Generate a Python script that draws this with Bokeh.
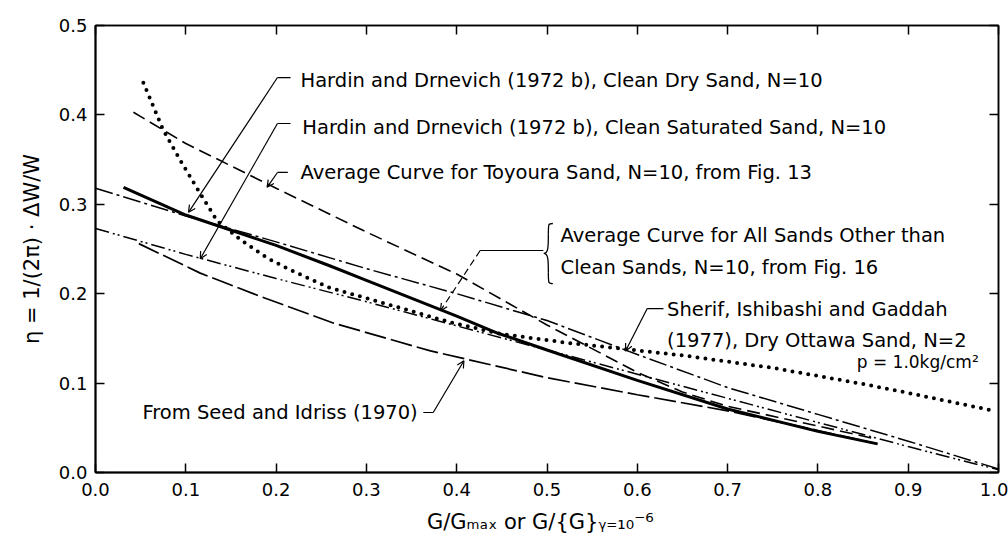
from bokeh.plotting import figure
from bokeh.models import LinearAxis, FixedTicker, Range1d, Arrow, OpenHead
from bokeh.core.properties import value
from bokeh.embed import file_html
from bokeh.resources import INLINE

# ---------------- axes ----------------
x_ticks = [0.0, 0.1, 0.2, 0.3, 0.4, 0.5, 0.6, 0.7, 0.8, 0.9, 1.0]
x_tick_labels = ["0.0", "0.1", "0.2", "0.3", "0.4", "0.5", "0.6", "0.7", "0.8", "0.9", "1.0"]
y_ticks = [0.0, 0.1, 0.2, 0.3, 0.4, 0.5]
y_tick_labels = ["0.0", "0.1", "0.2", "0.3", "0.4", "0.5"]
x_label = "G/Gₘₐₓ  or  G/{G}ᵧ₌₁₀⁻⁶"
y_label = "η = 1/(2π) · ΔW/W"

# ---------------- curves ----------------
# Hardin & Drnevich (1972b), clean dry sand - thick solid
dry_x = [0.031, 0.1, 0.2, 0.26, 0.3, 0.4, 0.445, 0.5, 0.6, 0.7, 0.8, 0.866]
dry_y = [0.319, 0.288, 0.254, 0.231, 0.215, 0.175, 0.156, 0.137, 0.103, 0.071, 0.046, 0.032]

# Hardin & Drnevich (1972b), clean saturated sand - dash-dot-dot
sat_x = [0.0, 0.1, 0.2, 0.3, 0.4, 0.5, 0.6, 0.7, 0.8, 0.9, 1.0]
sat_y = [0.273, 0.244, 0.217, 0.191, 0.164, 0.137, 0.110, 0.083, 0.056, 0.029, 0.003]

# Average curve for Toyoura sand - dashed
toy_x = [0.042, 0.1, 0.2, 0.3, 0.4, 0.5, 0.6, 0.65, 0.7, 0.8, 0.862]
toy_y = [0.403, 0.368, 0.318, 0.269, 0.222, 0.165, 0.112, 0.090, 0.074, 0.052, 0.038]

# Average curve for all sands other than clean sands - dash-dot
all_x = [0.0, 0.1, 0.2, 0.3, 0.4, 0.5, 0.6, 0.7, 0.8, 0.9, 1.0]
all_y = [0.318, 0.287, 0.258, 0.228, 0.200, 0.170, 0.132, 0.095, 0.065, 0.035, 0.004]

# Seed and Idriss (1970) - long dash
si_x = [0.048, 0.116, 0.185, 0.264, 0.371, 0.5, 0.6, 0.7, 0.8, 0.866]
si_y = [0.256, 0.223, 0.196, 0.167, 0.136, 0.106, 0.087, 0.069, 0.047, 0.032]

# Sherif, Ishibashi and Gaddah (1977) - dotted
sh_x = [0.053, 0.075, 0.094, 0.116, 0.135, 0.161, 0.19, 0.213, 0.258, 0.3, 0.393,
        0.449, 0.523, 0.578, 0.65, 0.75, 0.85, 0.9, 0.995]
sh_y = [0.436, 0.383, 0.349, 0.312, 0.281, 0.26, 0.24, 0.228, 0.207, 0.195, 0.168,
        0.155, 0.145, 0.139, 0.131, 0.117, 0.099, 0.089, 0.069]

# ---------------- annotations ----------------
label_texts = [
    "Hardin and Drnevich (1972 b), Clean Dry Sand, N=10",
    "Hardin and Drnevich (1972 b), Clean Saturated Sand, N=10",
    "Average Curve for Toyoura Sand, N=10, from Fig. 13",
    "Average Curve for All Sands Other than",
    "Clean Sands, N=10, from Fig. 16",
    "Sherif, Ishibashi and Gaddah",
    "(1977), Dry Ottawa Sand, N=2",
    "From Seed and Idriss (1970)",
]
label_x = [0.227, 0.229, 0.227, 0.515, 0.515, 0.633, 0.633, 0.052]
label_y = [0.4385, 0.386, 0.3356, 0.265, 0.2293, 0.1824, 0.1477, 0.0671]

pressure_text = ["p = 1.0kg/cm²"]
pressure_x = [0.843]
pressure_y = [0.124]

# leader lines: horizontal stub (hx0 -> hx1 at hy), then arrow hx1,hy -> tip
lead_hx0 = [0.216, 0.216, 0.213, 0.496, 0.629, 0.363]
lead_hx1 = [0.2015, 0.2015, 0.2015, 0.426, 0.611, 0.374]
lead_hy = [0.4418, 0.3904, 0.3356, 0.2483, 0.1834, 0.0671]
lead_tx = [0.103, 0.116, 0.190, 0.382, 0.587, 0.408]
lead_ty = [0.291, 0.239, 0.319, 0.181, 0.136, 0.125]
lead_dash = ["solid", "solid", "solid", "7 4", "solid", "solid"]

# brace anchor
brace_x0, brace_xm, brace_xr = 0.4965, 0.5015, 0.5065
brace_yt, brace_yc, brace_yb = 0.2785, 0.245, 0.2113

FONT = "DejaVu Sans"

p = figure(width=1008, height=540, x_range=Range1d(0, 1), y_range=Range1d(0, 0.5),
           output_backend="svg", toolbar_location=None,
           min_border_left=95, min_border_right=10, min_border_top=25, min_border_bottom=68,
           background_fill_color="white", border_fill_color="white")
p.xgrid.visible = False
p.ygrid.visible = False
p.outline_line_color = "black"
p.outline_line_width = 1.5

xa = p.xaxis[0]
xa.ticker = FixedTicker(ticks=x_ticks)
xa.major_label_overrides = dict(zip(x_ticks, x_tick_labels))
xa.major_tick_in = 9
xa.major_tick_out = 0
xa.minor_tick_line_color = None
xa.axis_line_width = 2
xa.major_tick_line_width = 1.5
xa.major_label_standoff = 10
xa.major_label_text_font = FONT
xa.major_label_text_font_size = "18px"
xa.major_label_text_color = "black"
xa.axis_label = x_label
xa.axis_label_text_font = FONT
xa.axis_label_text_font_size = "21px"
xa.axis_label_text_font_style = "normal"
xa.axis_label_text_color = "black"
xa.axis_label_standoff = 11

ya = p.yaxis[0]
ya.ticker = FixedTicker(ticks=y_ticks)
ya.major_label_overrides = dict(zip(y_ticks, y_tick_labels))
ya.major_tick_in = 9
ya.major_tick_out = 0
ya.minor_tick_line_color = None
ya.axis_line_width = 2
ya.major_tick_line_width = 1.5
ya.major_label_standoff = 8
ya.major_label_text_font = FONT
ya.major_label_text_font_size = "18px"
ya.major_label_text_color = "black"
ya.axis_label = y_label
ya.axis_label_text_font = FONT
ya.axis_label_text_font_size = "21px"
ya.axis_label_text_font_style = "normal"
ya.axis_label_text_color = "black"
ya.axis_label_standoff = 12

top_axis = LinearAxis(ticker=FixedTicker(ticks=x_ticks),
                      major_label_overrides={t: "" for t in x_ticks},
                      major_tick_in=9, major_tick_out=0, major_label_standoff=0,
                      minor_tick_line_color=None, axis_line_width=1.5,
                      major_tick_line_width=1.5, major_label_text_font_size="0px")
right_axis = LinearAxis(ticker=FixedTicker(ticks=y_ticks),
                        major_label_overrides={t: "" for t in y_ticks},
                        major_tick_in=9, major_tick_out=0, major_label_standoff=0,
                        minor_tick_line_color=None, axis_line_width=1.5,
                        major_tick_line_width=1.5, major_label_text_font_size="0px")
p.add_layout(top_axis, "above")
p.add_layout(right_axis, "right")

# curves
p.line(all_x, all_y, line_color="black", line_width=1.5, line_dash="18 4 3 4")
p.line(sat_x, sat_y, line_color="black", line_width=1.5, line_dash="14 4 2 3 2 4")
p.line(toy_x, toy_y, line_color="black", line_width=1.6, line_dash="13 6")
p.line(si_x, si_y, line_color="black", line_width=1.7, line_dash="22 5")
p.line(dry_x, dry_y, line_color="black", line_width=3)
p.line(sh_x, sh_y, line_color="black", line_width=4, line_dash="0 8", line_cap="round")

# labels
p.text(x=label_x, y=label_y, text=label_texts, text_font=value(FONT),
       text_font_size="19.5px", text_baseline="middle", text_align="left",
       text_color="black")
p.text(x=pressure_x, y=pressure_y, text=pressure_text, text_font=value(FONT),
       text_font_size="17px", text_baseline="middle", text_align="left",
       text_color="black")

# leaders
p.segment(x0=lead_hx0, y0=lead_hy, x1=lead_hx1, y1=lead_hy,
          line_color="black", line_width=1.2)
for hx, hy, tx, ty, dash in zip(lead_hx1, lead_hy, lead_tx, lead_ty, lead_dash):
    p.add_layout(Arrow(end=OpenHead(size=7, line_width=1.2, line_color="black"),
                       x_start=hx, y_start=hy, x_end=tx, y_end=ty,
                       line_color="black", line_width=1.2, line_dash=dash))

# brace
dy = 0.012
p.bezier(x0=[brace_xr, brace_xm, brace_x0, brace_xm],
         y0=[brace_yt, brace_yt - dy, brace_yc, brace_yb + dy],
         x1=[brace_xm, brace_x0, brace_xm, brace_xr],
         y1=[brace_yt - dy, brace_yc, brace_yb + dy, brace_yb],
         cx0=[brace_xm, brace_xm, brace_xm, brace_xm],
         cy0=[brace_yt, brace_yc + 0.008, brace_yc, brace_yb],
         cx1=[brace_xm, brace_xm, brace_xm, brace_xm],
         cy1=[brace_yt, brace_yc, brace_yc - 0.008, brace_yb],
         line_color="black", line_width=1.3)

open("out.html", "w").write(file_html(p, INLINE))
